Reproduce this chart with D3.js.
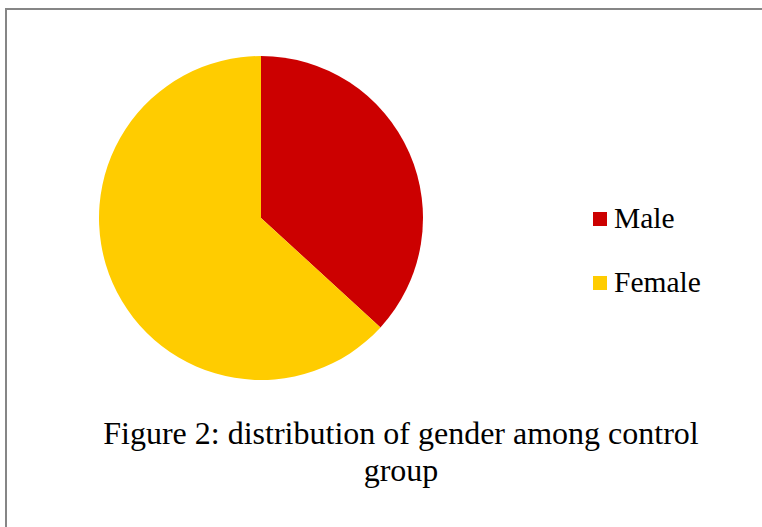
<!DOCTYPE html>
<html><head><meta charset="utf-8">
<script src="https://cdn.jsdelivr.net/npm/d3@7"></script>
<style>body{margin:0;background:#fff}svg{display:block}</style>
</head><body>
<svg id="c" width="762" height="527"></svg>
<script>
const categories = ["Male", "Female"];
const values = [36.8, 63.2];
const colors = ["#CC0000", "#FFCC00"];
const titleLines = ["Figure 2: distribution of gender among control", "group"];
const FONT = "'Liberation Serif', 'Times New Roman', serif";

const svg = d3.select("#c");
svg.append("rect").attr("x", 6).attr("y", 9).attr("width", 800).attr("height", 600)
  .attr("fill", "#fff").attr("stroke", "#868686").attr("stroke-width", 2);

const cx = 261, cy = 218, r = 162;
const pie = d3.pie().sort(null).value(d => d)(values);
const arc = d3.arc().innerRadius(0).outerRadius(r);
const g = svg.append("g").attr("transform", `translate(${cx},${cy})`);
g.selectAll("path").data(pie).join("path")
  .attr("d", arc).attr("fill", (d, i) => colors[i]);

const leg = svg.append("g");
categories.forEach((c, i) => {
  const y = 212 + i * 64;
  leg.append("rect").attr("x", 593).attr("y", y).attr("width", 14).attr("height", 14).attr("fill", colors[i]);
  leg.append("text").attr("x", 614).attr("y", y + 16).text(c)
    .style("font-family", FONT).attr("font-size", 29.5).attr("fill", "#000");
});

titleLines.forEach((t, i) => {
  svg.append("text").attr("x", 401).attr("y", 444 + i * 37).attr("text-anchor", "middle").text(t)
    .style("font-family", FONT).attr("font-size", 32).attr("fill", "#000");
});
</script>
</body></html>
